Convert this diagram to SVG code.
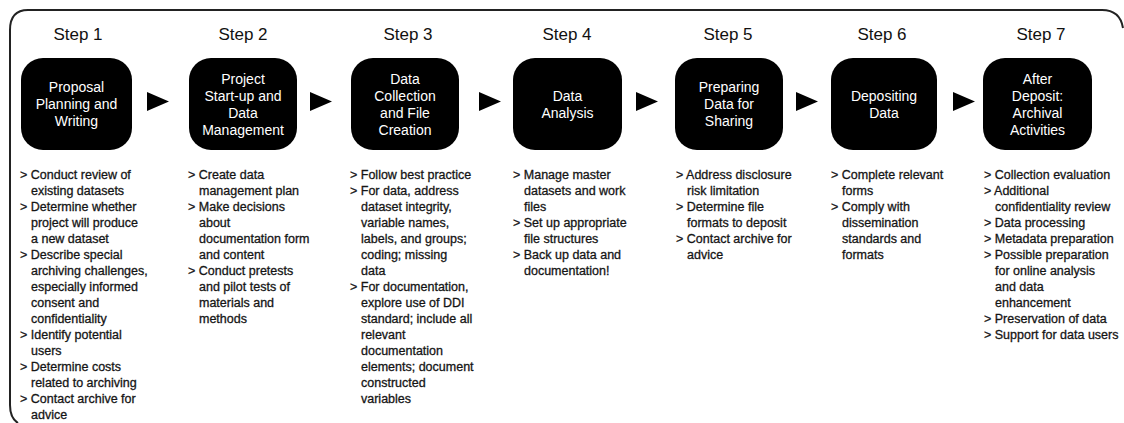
<svg xmlns="http://www.w3.org/2000/svg" width="1124" height="423" viewBox="0 0 1124 423">
<style>
.bg{fill:#ffffff}
.frame{fill:none;stroke:#222;stroke-width:2}
.box{fill:#000}
.step{font-family:"Liberation Sans",Arial,sans-serif;font-size:17px;fill:#111;text-anchor:middle}
.bt{font-family:"Liberation Sans",Arial,sans-serif;font-size:14px;fill:#fff;text-anchor:middle}
.li{font-family:"Liberation Sans",Arial,sans-serif;font-size:12.5px;fill:#151515;stroke:#151515;stroke-width:0.3}
.arr{fill:#000}
</style>
<rect class="bg" x="0" y="0" width="1124" height="423"/>
<path class="frame" d="M18 423 Q10 418 10 405 L10 30 Q10 10 28 10 L1102 10 Q1120 10 1123 28"/>

<g id="step1">
<text class="step" x="78" y="40">Step 1</text>
<rect class="box" x="21" y="58" width="111" height="92" rx="22"/>
<text class="bt" x="76.5" y="92">Proposal</text>
<text class="bt" x="76.5" y="109">Planning and</text>
<text class="bt" x="76.5" y="126">Writing</text>
<text class="li" x="20" y="179">&gt; Conduct review of</text>
<text class="li" x="31" y="195">existing datasets</text>
<text class="li" x="20" y="211">&gt; Determine whether</text>
<text class="li" x="31" y="227">project will produce</text>
<text class="li" x="31" y="243">a new dataset</text>
<text class="li" x="20" y="259">&gt; Describe special</text>
<text class="li" x="31" y="275">archiving challenges,</text>
<text class="li" x="31" y="291">especially informed</text>
<text class="li" x="31" y="307">consent and</text>
<text class="li" x="31" y="323">confidentiality</text>
<text class="li" x="20" y="339">&gt; Identify potential</text>
<text class="li" x="31" y="355">users</text>
<text class="li" x="20" y="371">&gt; Determine costs</text>
<text class="li" x="31" y="387">related to archiving</text>
<text class="li" x="20" y="403">&gt; Contact archive for</text>
<text class="li" x="31" y="419">advice</text>
</g>

<g id="step2">
<text class="step" x="243" y="40">Step 2</text>
<rect class="box" x="189" y="58" width="108" height="92" rx="22"/>
<text class="bt" x="243" y="83.5">Project</text>
<text class="bt" x="243" y="100.5">Start-up and</text>
<text class="bt" x="243" y="117.5">Data</text>
<text class="bt" x="243" y="134.5">Management</text>
<text class="li" x="188" y="179">&gt; Create data</text>
<text class="li" x="199" y="195">management plan</text>
<text class="li" x="188" y="211">&gt; Make decisions</text>
<text class="li" x="199" y="227">about</text>
<text class="li" x="199" y="243">documentation form</text>
<text class="li" x="199" y="259">and content</text>
<text class="li" x="188" y="275">&gt; Conduct pretests</text>
<text class="li" x="199" y="291">and pilot tests of</text>
<text class="li" x="199" y="307">materials and</text>
<text class="li" x="199" y="323">methods</text>
</g>

<g id="step3">
<text class="step" x="408" y="40">Step 3</text>
<rect class="box" x="351" y="58" width="108" height="92" rx="22"/>
<text class="bt" x="405" y="83.5">Data</text>
<text class="bt" x="405" y="100.5">Collection</text>
<text class="bt" x="405" y="117.5">and File</text>
<text class="bt" x="405" y="134.5">Creation</text>
<text class="li" x="350" y="179">&gt; Follow best practice</text>
<text class="li" x="350" y="195">&gt; For data, address</text>
<text class="li" x="361" y="211">dataset integrity,</text>
<text class="li" x="361" y="227">variable names,</text>
<text class="li" x="361" y="243">labels, and groups;</text>
<text class="li" x="361" y="259">coding; missing</text>
<text class="li" x="361" y="275">data</text>
<text class="li" x="350" y="291">&gt; For documentation,</text>
<text class="li" x="361" y="307">explore use of DDI</text>
<text class="li" x="361" y="323">standard; include all</text>
<text class="li" x="361" y="339">relevant</text>
<text class="li" x="361" y="355">documentation</text>
<text class="li" x="361" y="371">elements; document</text>
<text class="li" x="361" y="387">constructed</text>
<text class="li" x="361" y="403">variables</text>
</g>

<g id="step4">
<text class="step" x="567" y="40">Step 4</text>
<rect class="box" x="513" y="58" width="109" height="92" rx="22"/>
<text class="bt" x="567.5" y="100.5">Data</text>
<text class="bt" x="567.5" y="117.5">Analysis</text>
<text class="li" x="513" y="179">&gt; Manage master</text>
<text class="li" x="524" y="195">datasets and work</text>
<text class="li" x="524" y="211">files</text>
<text class="li" x="513" y="227">&gt; Set up appropriate</text>
<text class="li" x="524" y="243">file structures</text>
<text class="li" x="513" y="259">&gt; Back up data and</text>
<text class="li" x="524" y="275">documentation!</text>
</g>

<g id="step5">
<text class="step" x="728" y="40">Step 5</text>
<rect class="box" x="675" y="58" width="108" height="92" rx="22"/>
<text class="bt" x="729" y="92">Preparing</text>
<text class="bt" x="729" y="109">Data for</text>
<text class="bt" x="729" y="126">Sharing</text>
<text class="li" x="676" y="179">&gt; Address disclosure</text>
<text class="li" x="687" y="195">risk limitation</text>
<text class="li" x="676" y="211">&gt; Determine file</text>
<text class="li" x="687" y="227">formats to deposit</text>
<text class="li" x="676" y="243">&gt; Contact archive for</text>
<text class="li" x="687" y="259">advice</text>
</g>

<g id="step6">
<text class="step" x="882" y="40">Step 6</text>
<rect class="box" x="831" y="58" width="106" height="92" rx="22"/>
<text class="bt" x="884" y="100.5">Depositing</text>
<text class="bt" x="884" y="117.5">Data</text>
<text class="li" x="831" y="179">&gt; Complete relevant</text>
<text class="li" x="842" y="195">forms</text>
<text class="li" x="831" y="211">&gt; Comply with</text>
<text class="li" x="842" y="227">dissemination</text>
<text class="li" x="842" y="243">standards and</text>
<text class="li" x="842" y="259">formats</text>
</g>

<g id="step7">
<text class="step" x="1041" y="40">Step 7</text>
<rect class="box" x="983" y="58" width="109" height="92" rx="22"/>
<text class="bt" x="1037.5" y="83.5">After</text>
<text class="bt" x="1037.5" y="100.5">Deposit:</text>
<text class="bt" x="1037.5" y="117.5">Archival</text>
<text class="bt" x="1037.5" y="134.5">Activities</text>
<text class="li" x="984" y="179">&gt; Collection evaluation</text>
<text class="li" x="984" y="195">&gt; Additional</text>
<text class="li" x="995" y="211">confidentiality review</text>
<text class="li" x="984" y="227">&gt; Data processing</text>
<text class="li" x="984" y="243">&gt; Metadata preparation</text>
<text class="li" x="984" y="259">&gt; Possible preparation</text>
<text class="li" x="995" y="275">for online analysis</text>
<text class="li" x="995" y="291">and data</text>
<text class="li" x="995" y="307">enhancement</text>
<text class="li" x="984" y="323">&gt; Preservation of data</text>
<text class="li" x="984" y="339">&gt; Support for data users</text>
</g>

<g id="connectors">
<polygon class="arr" points="147,92 169,101.5 147,111"/>
<polygon class="arr" points="310,92 332,101.5 310,111"/>
<polygon class="arr" points="479,92 501,101.5 479,111"/>
<polygon class="arr" points="636,92 658,101.5 636,111"/>
<polygon class="arr" points="796,92 818,101.5 796,111"/>
<polygon class="arr" points="953,92 975,101.5 953,111"/>
</g>
</svg>
